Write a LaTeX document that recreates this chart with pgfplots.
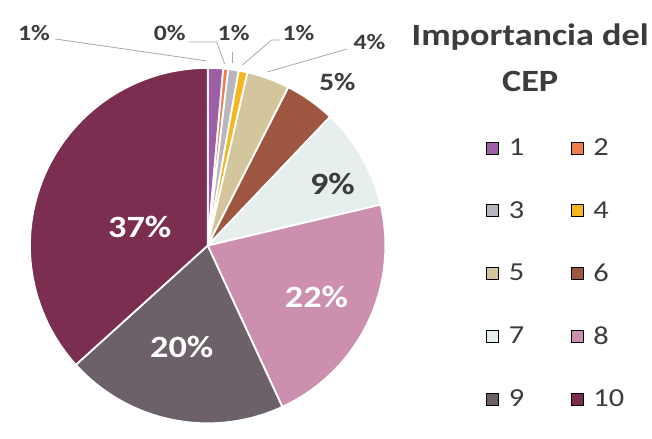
\documentclass[border=0pt]{standalone}
\usepackage{pgfplots}
\pgfplotsset{compat=1.18}
\usepackage{fontspec}
\setmainfont{Carlito}[FakeStretch=1.17]
\definecolor{c1}{HTML}{9C5FA6}
\definecolor{c2}{HTML}{EE7F4D}
\definecolor{c3}{HTML}{B8B5BF}
\definecolor{c4}{HTML}{F5B620}
\definecolor{c5}{HTML}{D5C59C}
\definecolor{c6}{HTML}{9E5640}
\definecolor{c7}{HTML}{E6EFEE}
\definecolor{c8}{HTML}{CC8FAE}
\definecolor{c9}{HTML}{6D6169}
\definecolor{c10}{HTML}{7B2E50}
\definecolor{txt}{HTML}{3C3C3C}
\definecolor{lead}{HTML}{A8A8A8}
% data: share of each answer (percent)
\def\vA{1.4}\def\vB{0.45}\def\vC{0.95}\def\vD{0.8}\def\vE{3.9}
\def\vF{4.6}\def\vG{9.2}\def\vH{21.8}\def\vI{20.2}\def\vJ{36.7}
\pgfmathsetmacro\cA{\vA}
\pgfmathsetmacro\cB{\cA+\vB}
\pgfmathsetmacro\cC{\cB+\vC}
\pgfmathsetmacro\cD{\cC+\vD}
\pgfmathsetmacro\cE{\cD+\vE}
\pgfmathsetmacro\cF{\cE+\vF}
\pgfmathsetmacro\cG{\cF+\vG}
\pgfmathsetmacro\cH{\cG+\vH}
\pgfmathsetmacro\cI{\cH+\vI}
\pgfmathsetmacro\cJ{\cI+\vJ}
\def\cx{208}\def\cy{193}\def\rx{178}\def\ry{178}
\newcommand{\slice}[3]{\addplot[forget plot, fill=#3, draw=white, line width=1.8pt, line join=round, domain=#1:#2, samples=90, variable=\p]
  ({\cx+\rx*sin(3.6*\p)}, {\cy+\ry*cos(3.6*\p)}) -- (axis cs:\cx,\cy) -- cycle;}
\begin{document}
\begin{tikzpicture}
\begin{axis}[
  width=652pt, height=439pt, scale only axis,
  xmin=0, xmax=652, ymin=0, ymax=439,
  hide axis, clip=false,
  legend columns=2,
  legend cell align=left,
  legend image code/.code={\fill[#1] (0pt,-6pt) rectangle (12pt,6pt); \path (20pt,0pt);},
  legend style={draw=none, fill=none, at={(axis cs:484,304)}, anchor=north west,
    font=\fontsize{26}{30}\selectfont, text=txt, row sep=40pt,
    /tikz/every even column/.append style={column sep=45pt}},
]
\path (axis cs:0,0) rectangle (axis cs:652,439);
\slice{0}{\cA}{c1}
\slice{\cA}{\cB}{c2}
\slice{\cB}{\cC}{c3}
\slice{\cC}{\cD}{c4}
\slice{\cD}{\cE}{c5}
\slice{\cE}{\cF}{c6}
\slice{\cF}{\cG}{c7}
\slice{\cG}{\cH}{c8}
\slice{\cH}{\cI}{c9}
\slice{\cI}{\cJ}{c10}
% leader lines
\addplot[forget plot, lead, line width=0.8pt] coordinates {(55,400) (207,378)};
\addplot[forget plot, lead, line width=0.8pt] coordinates {(189,397) (217,397) (225,375)};
\addplot[forget plot, lead, line width=0.8pt] coordinates {(233,387) (233,376)};
\addplot[forget plot, lead, line width=0.8pt] coordinates {(280,399) (272,399) (243,374)};
\addplot[forget plot, lead, line width=0.8pt] coordinates {(348,390) (268,367)};
% labels
\begin{scope}[every node/.style={font=\bfseries\fontsize{22}{26}\selectfont, text=txt}]
\node at (axis cs:34,406) {1\%};
\node at (axis cs:170,406) {0\%};
\node at (axis cs:234,406) {1\%};
\node at (axis cs:299,406) {1\%};
\node at (axis cs:370,397) {4\%};
\node[font=\bfseries\fontsize{25}{28}\selectfont] at (axis cs:338,357) {5\%};
\end{scope}
\begin{scope}[every node/.style={font=\bfseries\fontsize{31}{36}\selectfont}]
\node[text=txt] at (axis cs:333,255) {9\%};
\node[text=white] at (axis cs:317,142) {22\%};
\node[text=white] at (axis cs:182,91) {20\%};
\node[text=white] at (axis cs:140,212) {37\%};
\end{scope}
\node[font=\bfseries\fontsize{31}{46}\selectfont, text=txt, align=center] at (axis cs:531,381) {Importancia del\\CEP};
% legend
\addlegendimage{fill=c1}\addlegendentry{1}
\addlegendimage{fill=c2}\addlegendentry{2}
\addlegendimage{fill=c3}\addlegendentry{3}
\addlegendimage{fill=c4}\addlegendentry{4}
\addlegendimage{fill=c5}\addlegendentry{5}
\addlegendimage{fill=c6}\addlegendentry{6}
\addlegendimage{fill=c7}\addlegendentry{7}
\addlegendimage{fill=c8}\addlegendentry{8}
\addlegendimage{fill=c9}\addlegendentry{9}
\addlegendimage{fill=c10}\addlegendentry{10}
\end{axis}
\end{tikzpicture}
\end{document}
